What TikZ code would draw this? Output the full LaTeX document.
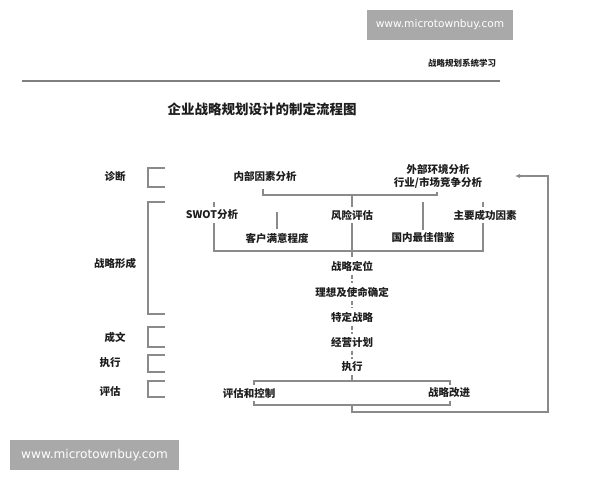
\documentclass[tikz,border=0pt]{standalone}
\usepackage{fontspec}
\setmainfont{Noto Sans CJK SC}
\newfontfamily\wmfont{DejaVu Sans}
\usetikzlibrary{arrows.meta}
\pgfdeclarelayer{bg}
\pgfdeclarelayer{paper}
\pgfsetlayers{paper,bg,main}
\definecolor{wmgray}{HTML}{A9A9A9}
\definecolor{linegray}{HTML}{8A8A8A}
\definecolor{txt}{HTML}{1E1E1E}
\definecolor{rulegray}{HTML}{7F7F7F}
\begin{document}
\begin{tikzpicture}[x=1pt,y=-1pt,
  ln/.style={draw=linegray, line width=1.1pt},
  dl/.style={ln, dash pattern=on 4pt off 2pt},
  lbl/.style={font=\fontsize{10.5}{13}\selectfont\bfseries, text=txt, inner sep=0pt},
  box/.style={lbl, fill=white, inner xsep=1pt, inner ysep=3.25pt},
  wm/.style={fill=wmgray, text=white, inner sep=0pt},
  brk/.style={ln}
]
\useasboundingbox (0,0) rectangle (600,480);
\begin{pgfonlayer}{paper}
  \fill[white] (0,0) rectangle (600,480);
\end{pgfonlayer}

% watermarks
\node[wm, minimum width=146pt, minimum height=30pt, font=\wmfont\fontsize{10.6}{12}\selectfont] (wm1) at (440,25) {www.microtownbuy.com};
\node[wm, minimum width=169pt, minimum height=30pt, font=\wmfont\fontsize{12.1}{14}\selectfont] (wm2) at (94.5,455) {www.microtownbuy.com};

% header
\node[lbl, font=\fontsize{8.5}{10}\selectfont\bfseries] (head) at (462,63) {战略规划系统学习};
\draw[draw=rulegray, line width=1.2pt] (22,81) -- (500,81);
\node[lbl, font=\fontsize{13.5}{16}\selectfont\bfseries] (title) at (262,109) {企业战略规划设计的制定流程图};

% left labels
\node[lbl] (ldiag) at (115,177) {诊断};
\node[lbl] (lform) at (115,263) {战略形成};
\node[lbl] (lwrite) at (115,337) {成文};
\node[lbl] (lexec) at (110,363) {执行};
\node[lbl] (leval) at (110,391) {评估};

% brackets
\draw[brk] (165,168) -- (148,168) -- (148,187) -- (165,187);
\draw[brk] (165,202) -- (148,202) -- (148,314) -- (165,314);
\draw[brk] (165,327) -- (148,327) -- (148,347) -- (165,347);
\draw[brk] (165,355) -- (148,355) -- (148,372) -- (165,372);
\draw[brk] (165,381) -- (148,381) -- (148,397) -- (165,397);

% main nodes
\node[box] (inner) at (265,176) {内部因素分析};
\node[box, align=center, font=\fontsize{10.5}{13}\selectfont\bfseries] (outer) at (438,176.5) {外部环境分析\\行业/市场竞争分析};
\node[box] (swot) at (212,215) {SWOT分析};
\node[box] (risk) at (352,215) {风险评估};
\node[box] (ksf) at (485,215) {主要成功因素};
\node[box] (cust) at (277,238) {客户满意程度};
\node[box] (best) at (423,238) {国内最佳借鉴};
\node[box] (pos) at (352,266) {战略定位};
\node[box] (vision) at (352,292) {理想及使命确定};
\node[box] (strat) at (352,317) {特定战略};
\node[box] (plan) at (352,342) {经营计划};
\node[box] (exe) at (352,367) {执行};
\node[box] (evalc) at (249,393) {评估和控制};
\node[box] (improve) at (449,393) {战略改进};
\coordinate (ret) at (515,176);

\begin{pgfonlayer}{bg}
  % inner/outer join
  \draw[ln] (263,189) |- (437,195) -- (437,189);
  % risk trunk
  \draw[ln] (risk.center |- 0,195) -- (pos);
  % swot / ksf bar
  \draw[ln] (214,202) -- (214,251) -- (483,251) -- (483,202);
  % cust and best ticks
  \draw[ln] (cust.north) -- ++(0,-17.5);
  \draw[ln] (best.north) -- ++(0,-27.5);
  % central chain
  \draw[dl] (pos) -- (vision);
  \draw[dl] (vision) -- (strat);
  \draw[dl] (strat) -- (plan);
  \draw[dl] (plan) -- (exe);
  \draw[ln] (exe) -- (exe |- 0,381);
  % evaluation box
  \draw[ln] (254,381) rectangle (450,405);
  % feedback loop
  \draw[ln, -{Latex[length=5pt,width=4.5pt]}] (352,405) -- (352,412) -| (548,176) -- (ret);
\end{pgfonlayer}
\end{tikzpicture}
\end{document}
